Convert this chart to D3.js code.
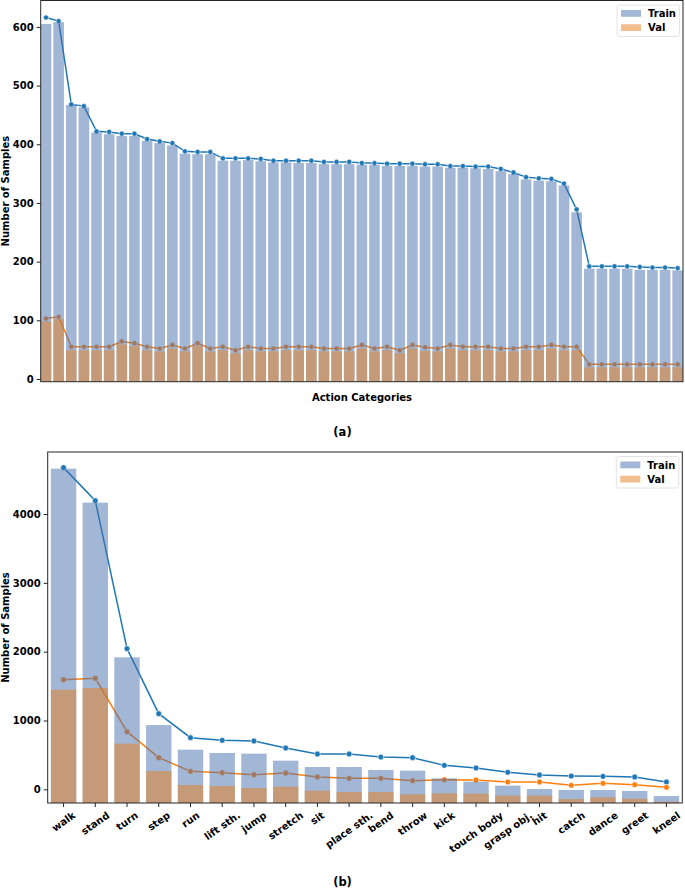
<!DOCTYPE html>
<html>
<head>
<meta charset="utf-8">
<script src="https://cdnjs.cloudflare.com/ajax/libs/d3/7.8.5/d3.min.js"></script>
<style>
  body { margin: 0; background: #fff; }
  svg { display: block; font-family: "DejaVu Sans", sans-serif; font-weight: bold; }
</style>
</head>
<body>
<svg width="685" height="889"></svg>
<script>
(function (d3) {
  'use strict';

  // (a) 51 action categories, no tick labels
  const trainLineA = [616, 610, 468, 465, 422, 421, 418, 418, 409, 405, 402, 388, 387, 387, 376, 376, 376,
    375, 372, 372, 372, 372, 370, 370, 370, 368, 368, 367, 367, 367, 366, 366, 363, 363, 362, 362, 358,
    352, 344, 342, 341, 333, 289, 192, 192, 192, 192, 191, 190, 190, 189];
  const trainBarA = [605, 608, 467, 463, 420, 417, 414, 414, 406, 402, 398, 384, 383, 383, 372, 372, 373,
    371, 369, 369, 368, 368, 366, 366, 366, 365, 365, 363, 363, 363, 362, 362, 360, 360, 359, 358, 354,
    349, 340, 338, 337, 330, 284, 188, 188, 188, 188, 186, 186, 186, 185];
  const valLineA = [103, 106, 55, 55, 55, 55, 64, 61, 55, 52, 58, 52, 61, 52, 55, 49, 55, 52, 52, 55, 55,
    55, 52, 52, 52, 58, 52, 55, 49, 58, 54, 52, 58, 55, 55, 55, 52, 52, 55, 55, 58, 55, 55,
    25, 25, 25, 25, 25, 25, 25, 25];
  const valBarA = [98, 102, 49, 49, 49, 49, 59, 56, 49, 47, 52, 47, 56, 47, 49, 44, 49, 47, 47, 49, 49,
    49, 47, 47, 47, 52, 47, 49, 44, 52, 48, 47, 52, 49, 49, 49, 47, 47, 49, 49, 52, 49, 49,
    20, 20, 20, 20, 20, 20, 20, 20];
  const yTicksA = [0, 100, 200, 300, 400, 500, 600];

  // (b) 20 coarse categories
  const categoriesB = ['walk', 'stand', 'turn', 'step', 'run', 'lift sth.', 'jump', 'stretch', 'sit',
    'place sth.', 'bend', 'throw', 'kick', 'touch body', 'grasp obj.', 'hit', 'catch', 'dance', 'greet', 'kneel'];
  const trainLineB = [4675, 4195, 2044, 1099, 750, 712, 702, 600, 513, 513, 469, 460, 348, 310, 247, 208, 193, 188, 179, 106];
  const trainBarB = [4660, 4166, 1918, 934, 576, 528, 518, 416, 324, 324, 281, 271, 159, 111, 53, 4, -10, -10, -25, -97];
  const valLineB = [1593, 1613, 838, 460, 261, 242, 213, 237, 179, 159, 159, 125, 140, 135, 106, 106, 58, 87, 67, 29];
  const valBarB = [1448, 1472, 663, 266, 62, 48, 19, 38, -20, -39, -39, -73, -59, -63, -92, -92, -141, -116, -136, -180];
  const yTicksB = [0, 1000, 2000, 3000, 4000];

  const trainFill = '#4670ac';
  const valFill = '#e67e1e';
  const trainStroke = '#1f77b4';
  const valStroke = '#ff7f0e';
  const fs = 10;

  const svg = d3.select('svg');

  function panel(o) {
    const x = d3.scaleLinear().domain(o.xDomain).range([o.left, o.right]);
    const y = d3.scaleLinear().domain(o.yDomain).range([o.bottom, o.top]);
    const g = svg.append('g');

    g.append('clipPath').attr('id', o.id)
      .append('rect')
        .attr('x', o.left).attr('y', o.top)
        .attr('width', o.right - o.left).attr('height', o.bottom - o.top);
    const plot = g.append('g').attr('clip-path', `url(#${o.id})`);

    const line = d3.line().x((d, i) => x(i)).y(d => y(d));

    // lines sit underneath the translucent bars
    [[o.trainLine, trainStroke], [o.valLine, valStroke]].forEach(([vals, c]) => {
      plot.append('path').datum(vals)
        .attr('d', line)
        .attr('fill', 'none')
        .attr('stroke', c)
        .attr('stroke-width', 1.5);
      plot.append('g').selectAll('circle').data(vals)
        .enter().append('circle')
          .attr('cx', (d, i) => x(i))
          .attr('cy', d => y(d))
          .attr('r', o.r)
          .attr('fill', c)
          .attr('stroke', '#fff')
          .attr('stroke-width', 0.6);
    });

    [[o.trainBar, trainFill], [o.valBar, valFill]].forEach(([vals, c]) => {
      plot.append('g').selectAll('rect').data(vals)
        .enter().append('rect')
          .attr('x', (d, i) => x(i - o.bw / 2))
          .attr('width', x(o.bw) - x(0))
          .attr('y', d => y(d))
          .attr('height', d => o.bottom - y(d))
          .attr('fill', c)
          .attr('fill-opacity', 0.5);
    });

    const yAxis = g.append('g')
        .attr('transform', `translate(${o.left},0)`)
        .call(d3.axisLeft(y).tickValues(o.yTicks).tickFormat(d3.format('d')).tickSize(4).tickPadding(3));
    yAxis.select('.domain').remove();
    yAxis.selectAll('line').attr('stroke', '#222');
    yAxis.selectAll('text')
      .attr('font-size', fs).attr('font-weight', 'bold')
      .attr('font-family', '"DejaVu Sans", sans-serif').attr('fill', '#000');

    g.append('rect')
      .attr('x', o.left).attr('y', o.top)
      .attr('width', o.right - o.left).attr('height', o.bottom - o.top)
      .attr('fill', 'none').attr('stroke', '#262626').attr('stroke-width', 1);

    g.append('text')
      .attr('transform', `translate(${o.ylabelX},${(o.top + o.bottom) / 2}) rotate(-90)`)
      .attr('text-anchor', 'middle')
      .attr('font-size', fs)
      .text('Number of Samples');

    // legend
    const lg = g.append('g').attr('transform', `translate(${o.right - 66},${o.top + 4.5})`);
    lg.append('rect')
      .attr('width', 62.5).attr('height', 31.5).attr('rx', 2)
      .attr('fill', '#fff').attr('fill-opacity', 0.8)
      .attr('stroke', '#ddd').attr('stroke-width', 0.8);
    [['Train', trainFill], ['Val', valFill]].forEach(([name, c], k) => {
      lg.append('rect')
        .attr('x', 4).attr('y', 5 + k * 14.2)
        .attr('width', 20).attr('height', 6.8)
        .attr('fill', c).attr('fill-opacity', 0.5);
      lg.append('text')
        .attr('x', 31).attr('y', 8.5 + k * 14.2)
        .attr('dy', '0.35em')
        .attr('font-size', fs)
        .text(name);
    });

    return { g, x, y };
  }

  const a = panel({
    id: 'clipA', left: 40.7, right: 683, top: 0.5, bottom: 381.7,
    xDomain: [-0.42, trainLineA.length - 0.58], yDomain: [-4.6, 645], bw: 0.84, r: 2.6,
    trainLine: trainLineA, trainBar: trainBarA, valLine: valLineA, valBar: valBarA,
    yTicks: yTicksA, ylabelX: 8.5
  });
  a.g.append('text')
    .attr('x', 362).attr('y', 397).attr('dy', '0.35em')
    .attr('text-anchor', 'middle').attr('font-size', fs)
    .text('Action Categories');

  const b = panel({
    id: 'clipB', left: 47.7, right: 682.3, top: 452, bottom: 803,
    xDomain: [-0.5, categoriesB.length - 0.5], yDomain: [-199, 4902], bw: 0.8, r: 2.9,
    trainLine: trainLineB, trainBar: trainBarB, valLine: valLineB, valBar: valBarB,
    yTicks: yTicksB, ylabelX: 8.5
  });

  // rotated category labels, centred under each tick
  const angle = 35;
  const rad = angle * Math.PI / 180;
  const xt = b.g.append('g');
  categoriesB.forEach((c, i) => {
    const cx = b.x(i);
    xt.append('line')
      .attr('x1', cx).attr('x2', cx).attr('y1', 803).attr('y2', 807)
      .attr('stroke', '#222');
    const t = xt.append('text')
      .attr('text-anchor', 'middle')
      .attr('dy', '0.35em')
      .attr('font-size', fs)
      .text(c);
    const w = t.node().getComputedTextLength();
    const h = w * Math.sin(rad) + fs * 0.75 * Math.cos(rad);
    t.attr('transform', `translate(${cx},${811 + h / 2}) rotate(${-angle})`);
  });

  svg.append('text')
    .attr('x', 342.5).attr('y', 432).attr('dy', '0.35em')
    .attr('text-anchor', 'middle').attr('font-size', 11.5)
    .text('(a)');
  svg.append('text')
    .attr('x', 342.5).attr('y', 882).attr('dy', '0.35em')
    .attr('text-anchor', 'middle').attr('font-size', 11.5)
    .text('(b)');

}(d3));
</script>
</body>
</html>
